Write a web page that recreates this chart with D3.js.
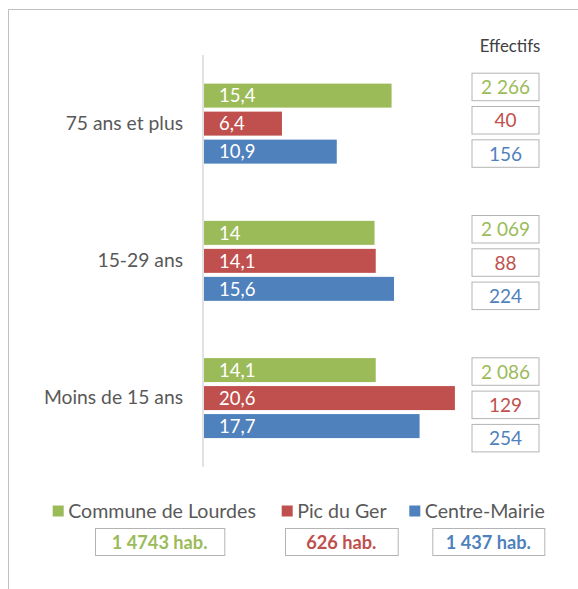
<!DOCTYPE html>
<html>
<head>
<meta charset="utf-8">
<script src="https://cdn.jsdelivr.net/npm/d3@7"></script>
<style>
  body { margin: 0; background: #fff; }
  svg { display: block; font-family: Lato, "Open Sans", sans-serif; }
</style>
</head>
<body>
<div id="my_dataviz"></div>
<script>
// data
var categories = ["75 ans et plus", "15-29 ans", "Moins de 15 ans"];
var seriesNames = ["Commune de Lourdes", "Pic du Ger", "Centre-Mairie"];
var lourdes = [15.4, 14, 14.1];
var picDuGer = [6.4, 14.1, 20.6];
var centreMairie = [10.9, 15.6, 17.7];
var effLourdes = [2266, 2069, 2086];
var effPic = [40, 88, 129];
var effCentre = [156, 224, 254];
var populations = ["1 4743 hab.", "626 hab.", "1 437 hab."];

var colors = ["#9BBB59", "#C0504D", "#4F81BD"];
var values = [lourdes, picDuGer, centreMairie];
var effectifs = [effLourdes, effPic, effCentre];

var fr = d3.formatLocale({decimal: ",", thousands: " ", grouping: [3], currency: ["", " €"]});
var fmtPct = function(v) { return fr.format(",")(v); };
var fmtEff = fr.format(",d");

var width = 578, height = 589;
var svg = d3.select("#my_dataviz")
  .append("svg")
    .attr("width", width)
    .attr("height", height);

// chart frame (only top and left visible)
svg.append("path")
  .attr("d", "M8.5,600V9.5H600")
  .attr("fill", "none")
  .attr("stroke", "#c0c0c0")
  .attr("stroke-width", 1);

// scales
var x = d3.scaleLinear()
  .domain([0, 25])
  .range([204, 204 + 25 * 12.18]);

var y0 = d3.scaleBand()
  .domain(categories)
  .range([55, 466.7]);

var y1 = d3.scaleBand()
  .domain(seriesNames)
  .range([0, 80])
  .paddingInner(4 / 28);

// category labels
var axis = d3.axisLeft(y0).tickSize(0).tickPadding(20);
var gAxis = svg.append("g")
  .attr("transform", "translate(203,0)")
  .call(axis);
gAxis.select(".domain").remove();
gAxis.selectAll("text")
  .attr("font-size", 19.3)
  .attr("font-family", "Lato, sans-serif")
  .attr("fill", "#595959");

// bars
var rows = [];
categories.forEach(function(c, i) {
  seriesNames.forEach(function(s, j) {
    rows.push({cat: c, ser: s, value: values[j][i], color: colors[j], eff: effectifs[j][i]});
  });
});

var groupOffset = (y0.bandwidth() - 80) / 2;

svg.selectAll("rect.bar")
  .data(rows)
  .enter()
  .append("rect")
    .attr("class", "bar")
    .attr("x", x(0))
    .attr("y", function(d) { return y0(d.cat) + groupOffset + y1(d.ser) })
    .attr("width", function(d) { return x(d.value) - x(0) })
    .attr("height", y1.bandwidth())
    .attr("fill", function(d) { return d.color });

svg.selectAll("text.barlabel")
  .data(rows)
  .enter()
  .append("text")
    .attr("class", "barlabel")
    .attr("x", x(0) + 15)
    .attr("y", function(d) { return y0(d.cat) + groupOffset + y1(d.ser) + y1.bandwidth() / 2 })
    .attr("dy", "0.36em")
    .attr("font-size", 18.5)
    .attr("fill", "#fff")
    .text(function(d) { return fmtPct(d.value) });

// vertical axis line
svg.append("line")
  .attr("x1", 203).attr("x2", 203)
  .attr("y1", 55).attr("y2", 466.7)
  .attr("stroke", "#d9d9d9")
  .attr("stroke-width", 1.5);

// effectifs boxes
svg.append("text")
  .attr("x", 510)
  .attr("y", 52)
  .attr("text-anchor", "middle")
  .attr("font-size", 16.8)
  .attr("fill", "#404040")
  .text("Effectifs");

var boxTop = d3.scalePoint().domain(categories).range([72.7, 357.3]);
var boxStep = d3.scalePoint().domain(seriesNames).range([0, 66.6]);

var boxes = svg.selectAll("g.eff")
  .data(rows)
  .enter()
  .append("g")
    .attr("class", "eff")
    .attr("transform", function(d) { return "translate(471.5," + (boxTop(d.cat) + boxStep(d.ser)) + ")" });
boxes.append("rect")
  .attr("x", 0.5).attr("y", 0.5)
  .attr("width", 67).attr("height", 27.5)
  .attr("fill", "#fff")
  .attr("stroke", "#b4b4b4")
  .attr("stroke-width", 1);
boxes.append("text")
  .attr("x", 34).attr("y", 14.5)
  .attr("dy", "0.36em")
  .attr("text-anchor", "middle")
  .attr("font-size", 19)
  .attr("fill", function(d) { return d.color })
  .text(function(d) { return fmtEff(d.eff) });

// legend
var legendX = [52.7, 281.7, 409.3];
var popBoxes = [[95, 224.3], [285, 397.7], [432.3, 544.3]];

var legend = svg.selectAll("g.legend")
  .data(seriesNames)
  .enter()
  .append("g")
    .attr("class", "legend");
legend.append("rect")
  .attr("x", function(d, i) { return legendX[i] })
  .attr("y", 505.5)
  .attr("width", 11).attr("height", 11)
  .attr("fill", function(d, i) { return colors[i] });
legend.append("text")
  .attr("x", function(d, i) { return legendX[i] + 15.5 })
  .attr("y", 511)
  .attr("dy", "0.36em")
  .attr("font-size", 19.6)
  .attr("fill", "#595959")
  .text(function(d) { return d });

legend.append("rect")
  .attr("x", function(d, i) { return popBoxes[i][0] + 0.5 })
  .attr("y", 528.5)
  .attr("width", function(d, i) { return popBoxes[i][1] - popBoxes[i][0] })
  .attr("height", 27)
  .attr("fill", "#fff")
  .attr("stroke", "#b4b4b4");
legend.append("text")
  .attr("x", function(d, i) { return (popBoxes[i][0] + popBoxes[i][1]) / 2 })
  .attr("y", 542)
  .attr("dy", "0.36em")
  .attr("text-anchor", "middle")
  .attr("font-size", 18.2)
  .attr("font-weight", "bold")
  .attr("fill", function(d, i) { return colors[i] })
  .text(function(d, i) { return populations[i] });
</script>
</body>
</html>
